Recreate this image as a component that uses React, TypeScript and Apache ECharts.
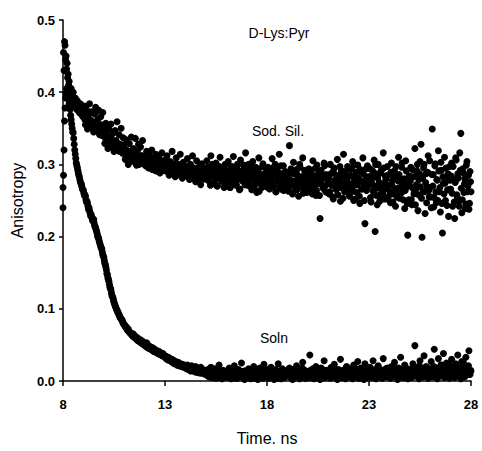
import React, { useEffect, useRef } from "react";
import * as echarts from "echarts";

// Sampling grid of the decays (ns): channel set A at T_START + i*T_STEP,
// channel set B interleaved half a step later
const T_START = 8;
const T_STEP = 0.05;
const T_OFFSET_B = 0.025;

// Axis ticks
const xTicks = [8, 13, 18, 23, 28];
const yTicks = ["0.0", "0.1", "0.2", "0.3", "0.4", "0.5"];

// Anisotropy values (x 1/1000), one row per ns
const sodSilValues = [
  268, 430, 465, 450, 440, 425, 415, 398, 405, 392, 400, 385, 392, 378, 388, 380, 372, 384, 376, 368,
  372, 381, 355, 376, 349, 368, 384, 352, 373, 358, 345, 370, 379, 347, 362, 375, 341, 366, 355, 372,
  351, 329, 357, 338, 322, 349, 336, 356, 325, 343, 318, 347, 333, 359, 320, 341, 328, 350, 316, 337,
  327, 307, 334, 314, 300, 329, 318, 338, 305, 322, 311, 336, 299, 319, 328, 304, 324, 312, 333, 302,
  310, 298, 318, 304, 295, 312, 301, 320, 297, 308, 292, 314, 303, 296, 309, 288, 305, 316, 299, 293,
  306, 291, 312, 298, 285, 304, 296, 318, 290, 301, 283, 309, 294, 300, 287, 314, 292, 281, 303, 297,
  296, 284, 308, 290, 279, 300, 288, 312, 283, 295, 276, 305, 291, 286, 298, 272, 301, 289, 294, 280,
  291, 305, 278, 296, 284, 312, 273, 289, 298, 281, 302, 270, 293, 287, 310, 279, 295, 283, 268, 300,
  288, 276, 304, 291, 268, 297, 283, 311, 279, 294, 272, 300, 285, 265, 306, 290, 277, 298, 281, 316,
  285, 271, 300, 279, 293, 265, 304, 287, 274, 296, 261, 290, 309, 277, 283, 268, 301, 286, 273, 294,
  283, 296, 267, 289, 276, 308, 271, 285, 300, 262, 292, 279, 314, 273, 287, 265, 298, 282, 290, 269,
  280, 263, 326, 274, 288, 259, 303, 277, 268, 293, 285, 256, 300, 272, 282, 309, 266, 290, 275, 261,
  278, 294, 262, 285, 271, 305, 266, 283, 257, 299, 274, 288, 225, 292, 280, 267, 302, 270, 286, 261,
  276, 259, 300, 272, 288, 252, 295, 279, 265, 307, 270, 284, 249, 291, 274, 314, 262, 287, 268, 297,
  274, 256, 293, 268, 304, 250, 285, 272, 261, 299, 280, 246, 290, 266, 309, 275, 218, 294, 271, 283,
  272, 294, 248, 282, 263, 306, 207, 287, 244, 300, 275, 258, 292, 266, 316, 252, 284, 270, 297, 255,
  271, 247, 302, 278, 259, 291, 242, 285, 267, 310, 253, 280, 296, 262, 274, 239, 305, 269, 202, 251,
  270, 296, 244, 283, 259, 322, 266, 291, 236, 279, 304, 328, 199, 262, 300, 232, 287, 269, 312, 255,
  268, 240, 349, 286, 254, 301, 247, 278, 319, 262, 234, 292, 205, 274, 310, 250, 283, 265, 228, 297,
  266, 302, 242, 280, 225, 309, 258, 287, 249, 316, 343, 233, 294, 261, 280, 245, 304, 270, 238, 290,
  262,
];

const sodSilValuesB = [
  455, 470, 445, 432, 420, 410, 402, 396, 390, 395, 386, 382, 389, 376, 381, 374, 378, 370, 373, 366,
  369, 362, 366, 357, 364, 360, 353, 361, 356, 350, 358, 352, 347, 355, 349, 343, 351, 346, 340, 348,
  341, 336, 343, 331, 338, 333, 327, 335, 330, 324, 332, 327, 321, 329, 324, 318, 326, 321, 316, 323,
  318, 313, 320, 309, 316, 311, 305, 314, 308, 317, 303, 311, 306, 313, 300, 309, 304, 312, 301, 307,
  305, 300, 309, 296, 303, 298, 306, 293, 301, 297, 304, 291, 299, 295, 302, 289, 297, 303, 292, 298,
  300, 294, 303, 289, 297, 292, 300, 287, 295, 290, 298, 285, 293, 299, 288, 295, 290, 284, 296, 291,
  294, 288, 297, 283, 291, 286, 295, 281, 289, 284, 293, 279, 287, 294, 282, 290, 285, 280, 292, 286,
  283, 296, 279, 290, 271, 288, 300, 284, 275, 293, 286, 270, 281, 297, 289, 277, 285, 294, 273, 288,
  279, 291, 286, 268, 282, 297, 275, 289, 284, 271, 294, 280, 287, 266, 290, 283, 277, 299, 272, 285,
  292, 276, 283, 270, 288, 281, 296, 267, 279, 286, 274, 291, 263, 284, 278, 297, 271, 287, 280, 269,
  274, 288, 266, 283, 279, 295, 270, 285, 262, 291, 277, 282, 268, 298, 276, 284, 264, 289, 273, 281,
  285, 268, 279, 294, 272, 261, 287, 276, 290, 265, 281, 273, 296, 269, 283, 260, 278, 292, 271, 286,
  266, 283, 275, 291, 259, 279, 270, 295, 264, 286, 277, 257, 289, 272, 281, 267, 298, 262, 284, 274,
  280, 262, 287, 271, 255, 293, 276, 266, 285, 258, 278, 297, 268, 283, 253, 274, 290, 263, 281, 270,
  259, 284, 268, 296, 263, 277, 252, 289, 272, 281, 256, 293, 266, 275, 287, 250, 279, 264, 298, 270,
  283, 254, 276, 291, 262, 270, 300, 257, 281, 267, 249, 288, 273, 260, 295, 266, 279, 252, 285, 271,
  262, 289, 271, 248, 282, 265, 297, 255, 277, 286, 259, 269, 302, 251, 280, 264, 291, 246, 273, 284,
  277, 251, 293, 266, 283, 244, 272, 300, 258, 287, 269, 253, 281, 295, 262, 275, 247, 289, 264, 305,
  255, 286, 270, 241, 298, 262, 279, 250, 291, 268, 303, 246, 283, 259, 274, 295, 243, 287, 265, 278,
  284, 260, 297, 248, 275, 306, 255, 281, 242, 292, 267, 251, 288, 273, 239, 299, 262, 285, 246, 276,
];

const solnValues = [
  240, 320, 378, 398, 402, 396, 384, 376, 362, 350, 344, 328, 314, 302, 296, 288, 283, 276, 272, 266,
  264, 257, 256, 248, 246, 238, 236, 229, 228, 222, 224, 215, 212, 207, 200, 197, 191, 186, 183, 175,
  171, 163, 158, 149, 143, 138, 130, 126, 118, 115, 109, 105, 101, 98, 95, 91, 88, 86, 84, 80,
  78, 76, 75, 71, 72, 68, 67, 66, 63, 65, 61, 62, 58, 60, 57, 55, 57, 53, 55, 52,
  51, 48, 53, 46, 49, 45, 47, 43, 46, 41, 44, 40, 42, 38, 41, 37, 39, 35, 38, 34,
  35, 31, 33, 29, 32, 28, 30, 26, 29, 24, 27, 25, 22, 26, 21, 24, 20, 23, 19, 22,
  20, 17, 22, 16, 19, 14, 21, 15, 18, 13, 20, 12, 17, 15, 11, 19, 14, 16, 10, 15,
  13, 8, 16, 6, 11, 19, 5, 12, 9, 17, 4, 14, 10, 22, 7, 12, 3, 15, 9, 11,
  8, 14, 5, 18, 10, 3, 13, 7, 21, 9, 12, 4, 16, 6, 11, 25, 8, 13, 2, 10,
  12, 6, 17, 9, 3, 14, 8, 20, 5, 11, 15, 2, 10, 18, 7, 13, 4, 23, 9, 6,
  11, 16, 4, 9, 19, 7, 13, 2, 15, 10, 6, 24, 8, 12, 3, 17, 11, 5, 14, 9,
  7, 13, 18, 5, 10, 2, 16, 8, 12, 21, 6, 14, 3, 11, 9, 26, 7, 15, 4, 12,
  10, 5, 36, 13, 8, 17, 3, 11, 20, 6, 14, 9, 2, 18, 7, 12, 28, 5, 15, 10,
  8, 14, 4, 19, 11, 6, 23, 9, 13, 2, 16, 7, 30, 10, 5, 15, 12, 3, 20, 8,
  13, 6, 17, 9, 3, 22, 11, 15, 7, 27, 4, 12, 18, 8, 14, 2, 24, 10, 6, 16,
  9, 19, 5, 13, 28, 8, 15, 3, 11, 21, 7, 16, 12, 4, 31, 9, 14, 6, 18, 10,
  12, 4, 20, 8, 15, 26, 6, 13, 2, 18, 10, 33, 7, 14, 5, 22, 11, 17, 3, 12,
  8, 16, 5, 24, 10, 49, 13, 7, 19, 3, 28, 11, 15, 6, 35, 9, 20, 12, 4, 17,
  10, 27, 6, 14, 44, 8, 18, 3, 31, 12, 7, 22, 15, 38, 5, 11, 25, 9, 16, 4,
  13, 30, 8, 19, 5, 24, 11, 36, 7, 16, 3, 27, 12, 20, 6, 33, 10, 15, 42, 9,
  14,
];

const solnValuesB = [
  285, 360, 392, 405, 399, 390, 380, 368, 356, 345, 336, 320, 308, 299, 292, 285, 279, 274, 269, 265,
  260, 258, 251, 249, 242, 240, 233, 231, 225, 223, 219, 214, 209, 204, 199, 194, 189, 184, 179, 173,
  167, 161, 154, 147, 141, 134, 128, 122, 117, 112, 107, 103, 99, 96, 93, 90, 87, 85, 82, 79,
  77, 74, 73, 70, 69, 67, 65, 64, 62, 61, 60, 59, 57, 56, 55, 54, 53, 52, 51, 50,
  50, 49, 47, 48, 45, 46, 44, 43, 44, 41, 42, 40, 39, 40, 37, 38, 36, 37, 35, 34,
  33, 34, 31, 32, 30, 29, 30, 27, 28, 26, 27, 24, 25, 24, 22, 23, 21, 22, 20, 21,
  19, 20, 17, 18, 16, 17, 15, 16, 14, 15, 13, 16, 12, 14, 13, 11, 14, 12, 10, 13,
  10, 14, 7, 12, 9, 15, 6, 11, 13, 8, 12, 5, 10, 14, 7, 11, 9, 13, 6, 10,
  12, 7, 11, 14, 5, 9, 13, 8, 10, 4, 12, 15, 7, 10, 13, 6, 11, 9, 14, 8,
  9, 13, 6, 10, 15, 8, 12, 4, 11, 14, 7, 10, 13, 5, 9, 12, 16, 8, 11, 6,
  13, 8, 11, 5, 14, 10, 7, 12, 16, 9, 4, 11, 13, 8, 10, 15, 6, 12, 9, 14,
  10, 14, 7, 12, 9, 16, 5, 11, 13, 8, 10, 15, 6, 12, 18, 9, 11, 4, 13, 10,
  8, 12, 15, 6, 10, 13, 9, 17, 5, 11, 14, 8, 12, 10, 16, 7, 13, 9, 11, 15,
  12, 9, 14, 7, 11, 16, 10, 5, 13, 8, 12, 15, 9, 11, 6, 14, 10, 18, 8, 12,
  10, 15, 8, 12, 6, 13, 11, 17, 9, 14, 7, 12, 10, 16, 8, 11, 13, 5, 15, 9,
  13, 8, 12, 16, 10, 7, 14, 11, 19, 9, 12, 6, 15, 10, 13, 8, 17, 11, 9, 14,
  9, 14, 11, 7, 16, 10, 13, 18, 8, 12, 15, 10, 6, 14, 11, 20, 9, 13, 16, 10,
  12, 8, 15, 11, 18, 9, 14, 6, 13, 21, 10, 16, 12, 8, 15, 11, 19, 9, 14, 12,
  10, 16, 12, 20, 8, 14, 11, 17, 9, 13, 22, 10, 15, 12, 7, 18, 11, 14, 24, 10,
  14, 11, 18, 9, 15, 22, 12, 8, 16, 13, 19, 10, 26, 14, 11, 17, 9, 21, 13, 15,
];

const toPoints = (vals: number[], offset: number) =>
  vals.map((v, i) => [+(T_START + offset + i * T_STEP).toFixed(3), v / 1000]);

const FONT = "'Liberation Sans', Arial, sans-serif";

const dotSeries = (name: string, vals: number[], offset: number) => ({
  name,
  type: "scatter",
  data: toPoints(vals, offset),
  symbolSize: 7,
  itemStyle: { color: "#000", opacity: 1 },
  silent: true,
});

export default function App() {
  const ref = useRef<HTMLDivElement>(null);
  useEffect(() => {
    if (!ref.current) return;
    const chart = echarts.init(ref.current, null, { renderer: "svg" });
    chart.setOption({
      animation: false,
      backgroundColor: "#fff",
      grid: { left: 63, right: 11, top: 20, bottom: 67 },
      xAxis: {
        type: "value",
        min: xTicks[0],
        max: xTicks[xTicks.length - 1],
        interval: xTicks[1] - xTicks[0],
        name: "Time. ns",
        nameLocation: "middle",
        nameGap: 49,
        nameTextStyle: { color: "#000", fontSize: 16, fontFamily: FONT },
        axisLine: { show: true, lineStyle: { color: "#000", width: 1.5 } },
        axisTick: { show: true, inside: false, length: 5, lineStyle: { color: "#000", width: 1.5 } },
        axisLabel: { color: "#000", fontSize: 13, fontFamily: FONT, fontWeight: "bold", margin: 17 },
        splitLine: { show: false },
      },
      yAxis: {
        type: "value",
        min: 0,
        max: 0.5,
        interval: 0.1,
        name: "Anisotropy",
        nameLocation: "middle",
        nameGap: 38,
        nameRotate: 90,
        nameTextStyle: { color: "#000", fontSize: 16, fontFamily: FONT },
        axisLine: { show: true, lineStyle: { color: "#000", width: 1.5 } },
        axisTick: { show: true, inside: false, length: 4, lineStyle: { color: "#000", width: 1.5 } },
        axisLabel: {
          color: "#000",
          fontSize: 13,
          fontFamily: FONT,
          fontWeight: "bold",
          margin: 8,
          formatter: (v: number) => yTicks[Math.round(v * 10)] ?? v.toFixed(1),
        },
        splitLine: { show: false },
      },
      series: [
        dotSeries("Sod. Sil.", sodSilValues, 0),
        dotSeries("Sod. Sil. B", sodSilValuesB, T_OFFSET_B),
        dotSeries("Soln", solnValues, 0),
        dotSeries("Soln B", solnValuesB, T_OFFSET_B),
      ],
      graphic: [
        {
          type: "text",
          x: 279,
          y: 33,
          style: { text: "D-Lys:Pyr", fill: "#000", font: `14px ${FONT}`, align: "center", verticalAlign: "middle" },
        },
        {
          type: "text",
          x: 278,
          y: 131,
          style: { text: "Sod. Sil.", fill: "#000", font: `14px ${FONT}`, align: "center", verticalAlign: "middle" },
        },
        {
          type: "text",
          x: 274,
          y: 338,
          style: { text: "Soln", fill: "#000", font: `14px ${FONT}`, align: "center", verticalAlign: "middle" },
        },
      ],
    });
    return () => chart.dispose();
  }, []);
  return (
    <div
      ref={ref}
      style={{ position: "absolute", left: 0, top: 0, width: 482, height: 451, background: "#fff" }}
    />
  );
}
